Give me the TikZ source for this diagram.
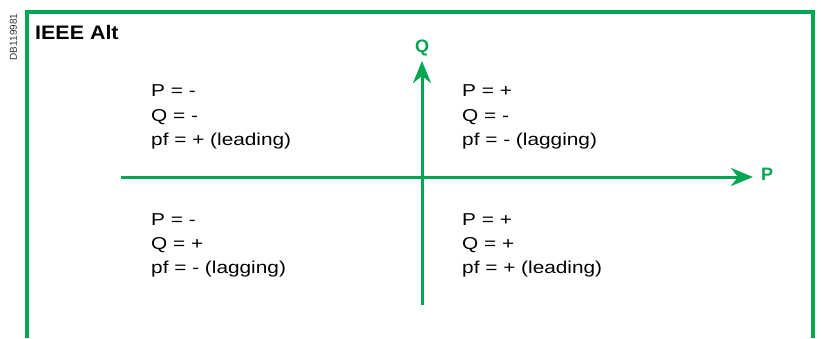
\documentclass[tikz,border=0pt]{standalone}
\usepackage{fontspec}
\setmainfont{Liberation Sans}
\newfontfamily\largafonte{Liberation Sans}[FakeStretch=1.21]
\newfontfamily\titulofonte{Liberation Sans}[FakeStretch=1.1]
\usepackage{tikz}
\usetikzlibrary{
  arrows.meta,
  positioning
}
\definecolor{verde}{RGB}{0,166,81}

\begin{document}
\begin{tikzpicture}[
    x=1pt,y=-1pt,
    quadrante/.style={
    align=left,
    anchor=north west,
    inner sep=0pt,
    font=\largafonte\fontsize{17.2}{24.3}\selectfont
    },
    eixo/.style={
    verde,
    line width=3pt,
    -{Stealth[length=22pt,width=18pt,inset=7pt]}
    },
    rotulo/.style={verde,inner sep=0pt,font=\bfseries\fontsize{18}{20}\selectfont},
    moldura/.style={verde,line width=3.5pt}
    ]
    
    \useasboundingbox (0,0) rectangle (821,338);
    
    \draw[moldura] (27,338) -- (27,12) -- (813,12) -- (813,338);
    
    \node[rotate=90,inner sep=0pt,text=black!80,
    font=\fontsize{10}{12}\selectfont] (ref) at (13.5,37) {DB119981};
    
    \node[anchor=base west,inner sep=0pt,
    font=\titulofonte\bfseries\fontsize{19.5}{22}\selectfont] (titulo)
    at (35,39) {IEEE Alt};
    
    \coordinate (oeste) at (121,177);
    \coordinate (leste) at (753,177);
    \coordinate (sul) at (422,305);
    \coordinate (norte) at (422,61);
    
    \draw[eixo](oeste)--(leste);
    \draw[eixo](sul)--(norte);
    
    \node[rotulo,right=8pt of leste,yshift=3pt] (p) {P};
    \node[rotulo,above=5pt of norte] (q) {Q};
    
    \node[quadrante] (q2) at (151,84.8)
    {P = -\\Q = -\\pf = + (leading)};
    
    \node[quadrante] (q1) at (462,84.8)
    {P = +\\Q = -\\pf = - (lagging)};
    
    \node[quadrante] (q3) at (151,213.3)
    {P = -\\Q = +\\pf = - (lagging)};
    
    \node[quadrante] (q4) at (462,213.3)
    {P = +\\Q = +\\pf = + (leading)};
    
\end{tikzpicture}
\end{document}
